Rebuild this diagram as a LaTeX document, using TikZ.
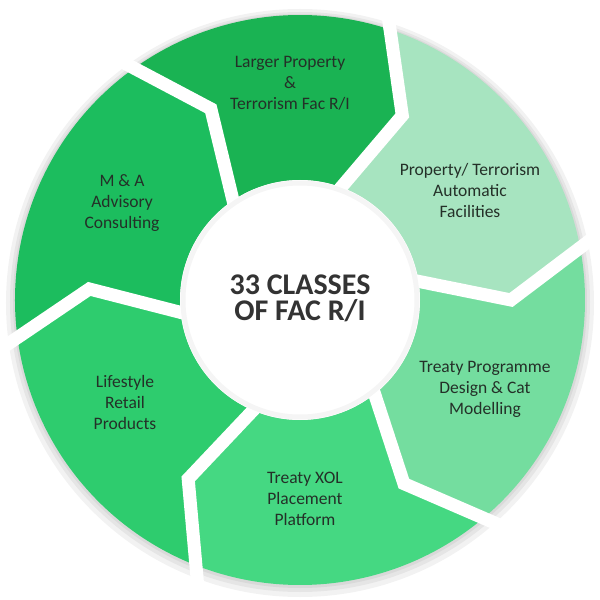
\documentclass[tikz,border=0pt]{standalone}
\usepackage{fontspec}
\setmainfont{Carlito}
\usepackage{tikz}
\definecolor{segtop}{RGB}{26,179,83}
\definecolor{segma}{RGB}{28,189,94}
\definecolor{seglife}{RGB}{46,204,110}
\definecolor{segxol}{RGB}{69,216,130}
\definecolor{segtreaty}{RGB}{116,221,159}
\definecolor{segauto}{RGB}{167,228,192}
\definecolor{textgray}{RGB}{36,48,40}
\definecolor{titlegray}{RGB}{51,51,51}
\usetikzlibrary{calc}
\tikzset{%
  label/.style={text=textgray, align=center, font=\fontsize{17.5}{21}\selectfont},% segment text
  title/.style={text=titlegray, align=center, font=\fontsize{30}{26}\selectfont\bfseries},% centre text
  gap/.style={draw=white, line width=13pt, line join=miter},% white cut between segments
  halo/.style={fill=black, opacity=0.05}% soft shadow round the ring
}
\newcommand*{\Rout}{285}
\newcommand*{\Rin}{120}
\newcommand*{\Rtip}{211}
\newcommand*{\segment}[3]{% ring piece from angle #1 clockwise to angle #2
  \fill[#3] (#1:\Rout) arc[start angle=#1, end angle=#2, radius=\Rout]
    -- ({#2-12}:\Rtip) -- (#2:\Rin) arc[start angle=#2, end angle=#1, radius=\Rin]
    -- ({#1-12}:\Rtip) -- cycle;}
\newcommand*{\cut}[1]{\draw[gap] (#1:300) -- ({#1-12}:\Rtip) -- (#1:105);}

\begin{document}
\begin{tikzpicture}[x=1pt, y=1pt]
\fill[white] (-300,-300) rectangle (300,300);
\useasboundingbox (-300,-300) rectangle (300,300);

\fill[halo] (0,-3) circle (294);
\fill[halo] (0,-2) circle (290);
\fill[halo] (0,-1) circle (287);

\segment{127}{73}{segtop}
\segment{73}{12}{segauto}
\segment{12}{-48.5}{segtreaty}
\segment{-48.5}{-110}{segxol}
\segment{250}{189}{seglife}
\segment{189}{127}{segma}

\cut{127}
\cut{73}
\cut{12}
\cut{-48.5}
\cut{-110}
\cut{189}

%%%%
\fill[white] (0,0) circle (\Rin);
\draw[black, opacity=0.04, line width=5pt] (0,0) circle (117);
%%%%

\node[title] (centre) at (0,2) {33 CLASSES\\OF FAC R/I};

\node[label] (larger) at (-10,217) {Larger Property\\\&\\Terrorism Fac R/I};
\node[label] (auto) at (170,110) {Property/ Terrorism\\Automatic\\Facilities};
\node[label] (treaty) at (185,-89) {Treaty Programme\\Design \& Cat\\Modelling};
\node[label] (xol) at (5,-199) {Treaty XOL\\Placement\\Platform};
\node[label] (life) at (-175,-102) {Lifestyle\\Retail\\Products};
\node[label] (ma) at (-178,97) {M \& A\\Advisory\\Consulting};
\end{tikzpicture}
\end{document}
